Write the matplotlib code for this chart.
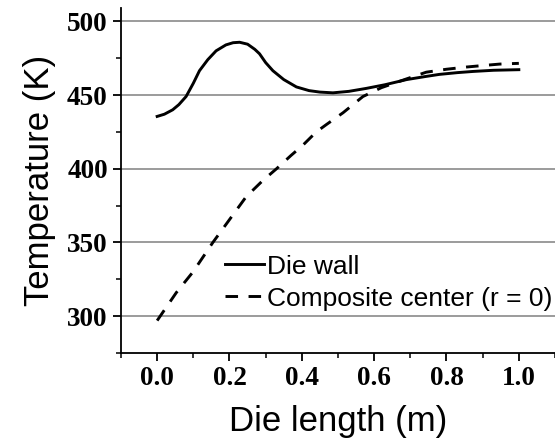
import matplotlib
matplotlib.use("Agg")
import matplotlib.pyplot as plt
from matplotlib.ticker import MultipleLocator

# Die wall temperature along the die
wall_x = [0.0, 0.02, 0.043, 0.06, 0.08, 0.10, 0.117, 0.14, 0.163, 0.19, 0.21, 0.228,
          0.25, 0.27, 0.283, 0.30, 0.32, 0.35, 0.385, 0.42, 0.45, 0.486, 0.53, 0.578,
          0.63, 0.69, 0.74, 0.78, 0.83, 0.873, 0.93, 1.0]
wall_t = [435.5, 437, 440, 443.5, 449, 458, 466.5, 474, 480, 484, 485.5, 485.8,
          484.5, 481, 478, 472, 466.5, 460.5, 455.5, 453, 452, 451.5, 452.5, 454.5,
          457, 460.5, 462.5, 464, 465.2, 466, 466.8, 467.2]

# Composite centre (r = 0)
center_x = [0.0, 0.053, 0.099, 0.154, 0.2, 0.246, 0.292, 0.33, 0.37, 0.403, 0.44,
            0.468, 0.514, 0.569, 0.62, 0.69, 0.744, 0.8, 0.855, 0.9, 0.947, 1.0]
center_t = [297, 316, 330, 350, 365.5, 381, 392, 400, 409, 416, 425,
            430, 438, 449, 455, 461, 465.5, 467.5, 469, 470, 471, 471.5]

x_ticks = [0.0, 0.2, 0.4, 0.6, 0.8, 1.0]
y_ticks = [300, 350, 400, 450, 500]

fig = plt.figure(figsize=(5.55, 4.48), dpi=100)
ax = fig.add_axes([0.218, 0.212, 0.782, 0.77])

ax.set_xlim(-0.1, 1.1)
ax.set_ylim(275, 509)
ax.set_xticks(x_ticks)
ax.set_yticks(y_ticks)
ax.xaxis.set_minor_locator(MultipleLocator(0.1))
ax.yaxis.set_minor_locator(MultipleLocator(25))
ax.set_xticklabels([f"{v:.1f}" for v in x_ticks])
ax.set_yticklabels([str(v) for v in y_ticks])

ax.grid(axis="y", which="major", color="#808080", linewidth=1.1)
ax.set_axisbelow(True)

ax.plot(wall_x, wall_t, color="black", linewidth=2.1, label="Die wall")
ax.plot(center_x, center_t, color="black", linewidth=2.1, dashes=(4.3, 3.6),
        label="Composite center (r = 0)")

for side in ("top", "right"):
    ax.spines[side].set_visible(False)
for side in ("left", "bottom"):
    ax.spines[side].set_linewidth(1.3)

ax.tick_params(which="major", direction="out", length=6, width=1.3)
ax.tick_params(which="minor", direction="out", length=3.5, width=1.1)
for lab in ax.get_xticklabels() + ax.get_yticklabels():
    lab.set_family("Liberation Serif")
    lab.set_fontweight("bold")
    lab.set_fontsize(19.5)

ax.set_xlabel("Die length (m)", family="Liberation Sans", fontsize=25, labelpad=10)
ax.set_ylabel("Temperature (K)", family="Liberation Sans", fontsize=25, labelpad=8)

leg = ax.legend(loc="lower left", bbox_to_anchor=(0.21, 0.085), frameon=False,
                prop={"family": "Liberation Sans", "size": 19},
                handlelength=1.45, handletextpad=0.12, labelspacing=0.3,
                borderpad=0.0)

fig.savefig("out.png", dpi=100)
